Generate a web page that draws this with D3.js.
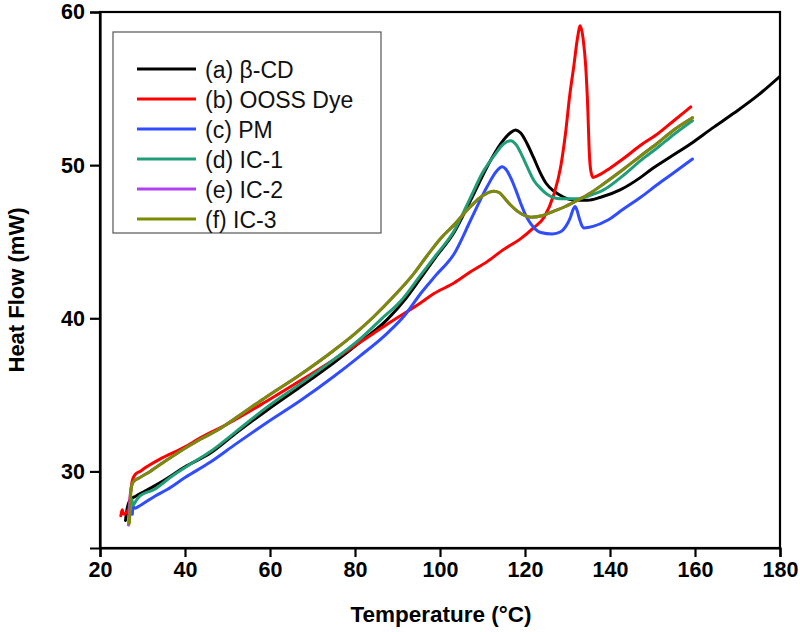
<!DOCTYPE html>
<html><head><meta charset="utf-8">
<script src="https://cdn.jsdelivr.net/npm/d3@7/dist/d3.min.js"></script>
<style>body{margin:0;background:#fff}svg{display:block}text{font-family:"Liberation Sans",Arial,sans-serif}</style>
</head><body><svg id="c" width="800" height="632"></svg>
<script>
const xTicks = [20,40,60,80,100,120,140,160,180];
const yTicks = [30,40,50,60];
const seriesNames = ["(a) β-CD","(b) OOSS Dye","(c) PM","(d) IC-1","(e) IC-2","(f) IC-3"];
const seriesColors = ["#000000","#ff0000","#2f4cff","#1f9e78","#b040f0","#7a8c00"];

const tA = [26.0,26.4,27.0,28.5,30.5,35,40,46,52,59.3,67,75,81,87.5,92,95.4,99,103.3,107.2,111.1,114.3,116.5,117.8,119,120.5,122,123.6,125,126.8,128.5,130.7,132.7,134.7,137.8,142.5,147.2,149.6,154,159,164,169.2,175,180];
const hA = [26.8,27.6,28.1,28.4,28.7,29.4,30.3,31.2,32.5,34.0,35.5,37.1,38.4,39.9,41.3,42.6,44.0,45.6,47.7,49.9,51.4,52.1,52.3,52.1,51.4,50.5,49.5,48.8,48.3,48.0,47.75,47.7,47.7,47.9,48.4,49.2,49.7,50.5,51.4,52.4,53.4,54.6,55.8];

const tB = [24.9,25.2,25.6,26.2,26.8,27.2,27.6,28.3,29.4,31,34.1,40,43.6,50,59.3,67,75,81,87.5,95.4,98.5,103.3,107,111.1,115,119,122,124.5,126.8,128.4,129.5,130.5,131.5,132.3,133.0,133.7,134.3,134.8,135.1,135.5,136.0,137.0,140,143.5,147.2,151,155,159];
const hB = [27.1,27.5,27.2,27.3,27.6,28.6,29.4,29.8,30.0,30.3,30.8,31.6,32.2,33.1,34.6,35.9,37.3,38.4,39.6,41.0,41.6,42.3,43.0,43.7,44.5,45.2,45.9,46.6,48.1,49.9,52.0,54.5,56.5,58.2,59.1,58.2,56.4,53.5,51.0,49.6,49.2,49.3,49.8,50.5,51.3,52.0,52.9,53.8];

const tC = [27.6,27.8,28.2,29,30.2,33,35.7,40,45.9,52,59.3,67,75,81,87.5,92,95.4,99,103.3,107.2,111.1,113.3,114.6,115.6,116.6,117.8,119,120.2,121.3,123.7,126.4,128.4,129.6,130.7,131.3,131.8,132.3,132.7,133.3,133.9,136,139.4,143,147.2,151,155,159.4];
const hC = [27.2,27.7,27.6,27.7,27.9,28.4,28.8,29.6,30.6,31.8,33.2,34.6,36.2,37.5,39.0,40.3,41.6,42.8,44.2,46.4,48.6,49.6,49.9,49.7,49.2,48.4,47.5,46.7,46.2,45.6,45.5,45.65,46.0,46.6,47.1,47.3,47.0,46.6,46.1,45.9,46.0,46.4,47.1,47.9,48.7,49.5,50.4];

const tD = [26.9,27.1,27.4,27.8,28.5,29.4,32.6,37,42,46,52,59.3,67,75,81,86,91,95.4,99,103.3,107.2,110,112.7,115,116.6,118,119,120.5,122.1,123.6,125.2,128.4,132.3,135,138.6,143,147.2,151,155,159.4];
const hD = [27.0,27.9,28.2,27.8,28.1,28.4,28.8,29.7,30.6,31.3,32.6,34.2,35.7,37.3,38.6,39.9,41.2,42.8,44.1,45.7,47.9,49.5,50.6,51.4,51.6,51.3,50.8,49.9,49.0,48.5,48.1,47.8,47.8,48.0,48.4,49.3,50.3,51.1,52.0,52.9];

const tE = [26.7,26.9,27.2,27.8,29.4,31.8,36,43.6,48.3,52,59.3,67,75,80,84.4,89,93.8,97,100.1,103.3,107.2,110,112.7,114,115,116.6,118.2,120,121.3,124,126.8,129.5,132.3,135.5,138.6,143,147.2,151,155,159.4];
const hE = [26.5,27.3,28.7,29.3,29.6,30.0,30.8,32.1,32.8,33.5,34.9,36.3,37.9,39.0,40.1,41.4,42.9,44.1,45.2,46.1,47.3,48.0,48.3,48.2,47.9,47.4,47.0,46.7,46.6,46.7,47.0,47.3,47.7,48.2,48.8,49.7,50.6,51.4,52.3,53.1];

const tF = [26.9,27.1,27.3,27.8,29.4,31.8,36,43.6,48.3,52,59.3,67,75,80,84.4,89,93.8,97,100.1,103.3,107.2,110,112.7,114,115,116.6,118.2,120,121.3,124,126.8,129.5,132.3,135.5,138.6,143,147.2,151,155,159.4];
const hF = [26.6,27.5,28.8,29.3,29.6,30.0,30.8,32.1,32.8,33.5,34.9,36.3,37.9,39.0,40.1,41.4,42.9,44.1,45.2,46.1,47.3,48.0,48.3,48.2,47.9,47.4,47.0,46.7,46.6,46.7,47.0,47.3,47.7,48.2,48.8,49.7,50.6,51.4,52.3,53.1];

const seriesT = [tA,tB,tC,tD,tE,tF];
const seriesH = [hA,hB,hC,hD,hE,hF];

const L=100,R=780,T=12,B=548;
const x = d3.scaleLinear().domain([20,180]).range([L,R]);
const y = d3.scaleLinear().domain([25,60]).range([B,T]);
const svg = d3.select("#c");

const line = d3.line().x(d=>x(d[0])).y(d=>y(d[1])).curve(d3.curveMonotoneX);
svg.append("clipPath").attr("id","pc").append("rect").attr("x",L).attr("y",T).attr("width",R-L).attr("height",B-T);
const g = svg.append("g").attr("clip-path","url(#pc)");
seriesT.forEach((ts,i)=>{
  const pts = ts.map((t,j)=>[t,seriesH[i][j]]);
  g.append("path").attr("d",line(pts)).attr("fill","none").attr("stroke",seriesColors[i])
   .attr("stroke-width",3).attr("stroke-linejoin","round").attr("stroke-linecap","round");
});

// frame
svg.append("rect").attr("x",L).attr("y",T).attr("width",R-L).attr("height",B-T)
  .attr("fill","none").attr("stroke","#000").attr("stroke-width",2.2);

const xa = svg.append("g").attr("transform",`translate(0,${B})`)
  .call(d3.axisBottom(x).tickValues(xTicks).tickSize(9).tickPadding(5).tickFormat(d3.format("d")));
const ya = svg.append("g").attr("transform",`translate(${L},0)`)
  .call(d3.axisLeft(y).tickValues(yTicks).tickSize(10).tickPadding(5).tickFormat(d3.format("d")));
[xa,ya].forEach(a=>{
  a.select(".domain").attr("stroke-width",2.2);
  a.selectAll(".tick line").attr("stroke-width",2.2);
  a.selectAll(".tick text").attr("font-size",21.5).attr("font-family","Liberation Sans, Arial, sans-serif").attr("font-weight","bold").attr("fill","#000");
});

svg.append("text").attr("x",441).attr("y",622).attr("text-anchor","middle")
  .attr("font-size",22.5).attr("font-weight","bold").text("Temperature (°C)");
svg.append("text").attr("transform",`translate(24,290) rotate(-90)`).attr("text-anchor","middle")
  .attr("font-size",22).attr("font-weight","bold").text("Heat Flow (mW)");

// legend
const lg = svg.append("g");
lg.append("rect").attr("x",113).attr("y",32).attr("width",268).attr("height",201)
  .attr("fill","#fff").attr("stroke","#555").attr("stroke-width",1.2);
seriesNames.forEach((n,i)=>{
  const yy = 69 + i*30;
  lg.append("line").attr("x1",137).attr("x2",196).attr("y1",yy).attr("y2",yy)
    .attr("stroke",seriesColors[i]).attr("stroke-width",3);
  lg.append("text").attr("x",205).attr("y",yy+8.5).attr("font-size",23).attr("fill","#111").text(n);
});
</script></body></html>
